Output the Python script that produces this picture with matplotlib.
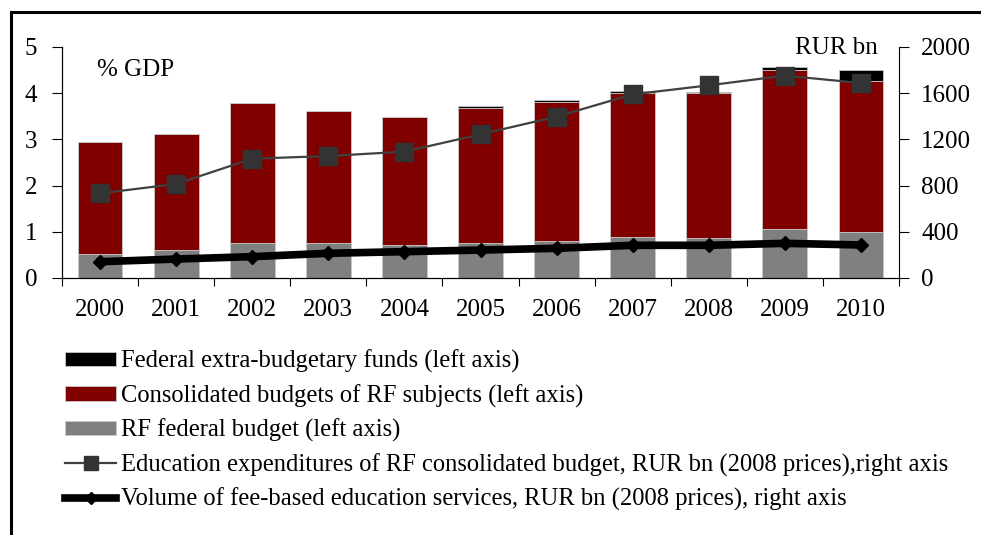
import matplotlib.pyplot as plt
import numpy as np
from matplotlib.lines import Line2D

plt.rcParams['font.family'] = ['Liberation Serif', 'DejaVu Serif']

years = ['2000', '2001', '2002', '2003', '2004', '2005',
         '2006', '2007', '2008', '2009', '2010']
federal = [0.52, 0.61, 0.76, 0.76, 0.71, 0.76, 0.81, 0.89, 0.87, 1.07, 1.00]
regional = [2.42, 2.50, 3.03, 2.85, 2.77, 2.91, 2.99, 3.11, 3.13, 3.44, 3.26]
extra = [0.00, 0.00, 0.00, 0.00, 0.00, 0.05, 0.05, 0.05, 0.03, 0.05, 0.24]
edu_exp = [733, 814, 1033, 1056, 1094, 1244, 1397, 1590, 1668, 1752, 1688]
fee_based = [141, 164, 185, 214, 228, 242, 257, 283, 283, 300, 286]

lbl_extra = 'Federal extra-budgetary funds (left axis)'
lbl_reg = 'Consolidated budgets of RF subjects (left axis)'
lbl_fed = 'RF federal budget (left axis)'
lbl_edu = 'Education expenditures of RF consolidated budget, RUR bn (2008 prices),right axis'
lbl_fee = 'Volume of fee-based education services, RUR bn (2008 prices), right axis'

fig = plt.figure(figsize=(9.81, 5.35), dpi=100)
ax = fig.add_axes([62/981, 1-278/535, (899-62)/981, (278-47)/535])
ax2 = ax.twinx()

x = np.arange(len(years))
fed = np.array(federal)
reg = np.array(regional)
ext = np.array(extra)
w = 0.59
b1 = ax.bar(x, fed, w, color='#808080', edgecolor='#c8c8c8', linewidth=0.6)
b2 = ax.bar(x, reg, w, bottom=fed, color='#800000', edgecolor='#c8c8c8', linewidth=0.6)
b3 = ax.bar(x, ext, w, bottom=fed+reg, color='black', edgecolor='#c8c8c8', linewidth=0.6)

l1, = ax2.plot(x, edu_exp, color='#404040', lw=1.6, marker='s', ms=12.5,
               mfc='#333333', mec='#333333')
l2, = ax2.plot(x, fee_based, color='black', lw=5.5, marker='D', ms=7.5,
               mfc='black', mec='black')

ax.set_xlim(-0.5, len(years)-0.5)
ax.set_ylim(0, 5)
ax2.set_ylim(0, 2000)
ax.set_yticks(range(0, 6))
ax2.set_yticks(range(0, 2001, 400))
ax.set_xticks(x)
ax.set_xticklabels(years)
ax.set_xticks(np.arange(-0.5, len(years)), minor=True)
ax.tick_params(axis='x', which='major', length=0, pad=15, labelsize=18)
ax.tick_params(axis='x', which='minor', length=6, width=0.8, direction='out')
ax.tick_params(axis='y', length=7, width=0.8, pad=11, labelsize=18)
ax2.tick_params(axis='y', length=7, width=0.8, pad=9, labelsize=18)

for a in (ax, ax2):
    a.spines['top'].set_visible(False)
ax.spines['right'].set_visible(False)

ax.text(0.042, 0.90, '% GDP', transform=ax.transAxes, fontsize=18, va='center')
ax2.text(0.975, 0.995, 'RUR bn', transform=ax.transAxes, fontsize=18,
         va='center', ha='right')

fig.legend([b3, b2, b1, l1, l2], [lbl_extra, lbl_reg, lbl_fed, lbl_edu, lbl_fee],
           loc='upper left', bbox_to_anchor=(55/981, 1-340/535), frameon=False,
           fontsize=17.7, handlelength=2.1, handletextpad=0.2, labelspacing=0.45,
           handleheight=0.52, borderaxespad=0, markerscale=0.75)

# outer frame of the figure
fig.add_artist(Line2D([11/981, 11/981], [0, 1-12/535], color='black', lw=2.2))
fig.add_artist(Line2D([11/981, 1], [1-12/535, 1-12/535], color='black', lw=2.2))

fig.savefig('out.png', dpi=100)
